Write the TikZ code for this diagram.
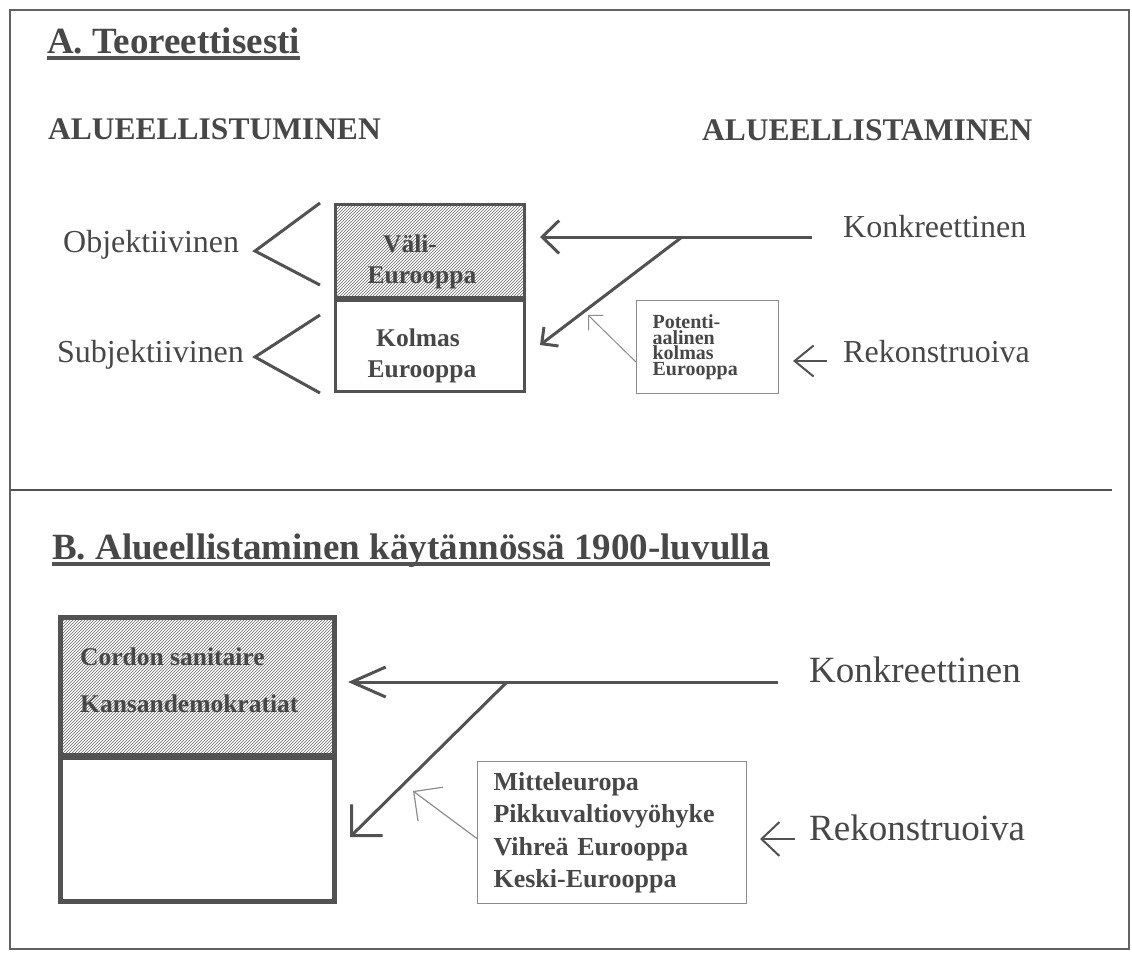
\documentclass[tikz,border=0pt]{standalone}
\usepackage{fontspec}
\setmainfont{Liberation Serif}
\usetikzlibrary{arrows.meta,patterns}
\definecolor{inchiostro}{gray}{0.28}
\definecolor{linea}{gray}{0.32}
\definecolor{sottile}{gray}{0.55}
\tikzset{
	titolo/.style={font=\fontsize{37}{44}\selectfont\bfseries, text=inchiostro, inner sep=0, anchor=base west},
	intestazione/.style={font=\fontsize{31.5}{38}\selectfont\bfseries, text=inchiostro, inner sep=0, anchor=base west},
	voce/.style={font=\fontsize{32}{38}\selectfont, text=inchiostro, inner sep=0, anchor=base west},
	testobox/.style={font=\fontsize{25.5}{31}\selectfont\bfseries, text=inchiostro, inner sep=0, anchor=base},
	riquadro/.style={draw=linea, line width=3, inner sep=0, anchor=north west},
	cornice/.style={draw=sottile, line width=1.2, inner ysep=0, anchor=north west, text=inchiostro, align=left},
	tratteggio/.style={pattern=north east lines, pattern color=black!60},
	freccia/.style={draw=linea, line width=3},
	frecciasottile/.style={draw=sottile, line width=1}
}
\begin{document}
\begin{tikzpicture}[x=1pt,y=-1pt]
		\useasboundingbox (0,0) rectangle (1132,954);
		% cornice esterna
		\draw[sottile!70!black, line width=1.8] (10,10) rectangle (1129,949);
		\draw[linea, line width=2.5] (10,490) -- (1112,490);
		% parte A
		\node[titolo] (titoloA) at (47,53) {A. Teoreettisesti};
		\draw[linea, line width=3.5] ([yshift=-5pt]titoloA.base west) -- ([yshift=-5pt]titoloA.base east);
		\node[intestazione] (alueellistuminen) at (48,139) {ALUEELLISTUMINEN};
		\node[intestazione] (alueellistaminen) at (702,140) {ALUEELLISTAMINEN};
		\node[voce] (objektiivinen) at (63,252) {Objektiivinen};
		\node[voce] (subjektiivinen) at (57,362) {Subjektiivinen};
		\node[voce] (konkreettinenA) at (843,237) {Konkreettinen};
		\node[voce] (rekonstruoivaA) at (843,362) {Rekonstruoiva};
		\draw[linea, line width=3] (320,203) -- (255,251) -- (320,285);
		\draw[linea, line width=3] (320,315) -- (255,357) -- (320,393);
		\node[riquadro, tratteggio, minimum width=189pt, minimum height=93pt] (vali) at (334,203) {};
		\node[riquadro, minimum width=189pt, minimum height=91pt] (kolmas) at (334,299) {};
		\node[testobox] (vali1) at (410,252) {Väli-};
		\node[testobox] (vali2) at (422,283) {Eurooppa};
		\node[testobox] (kolmas1) at (418,346) {Kolmas};
		\node[testobox] (kolmas2) at (422,377) {Eurooppa};
		\node[cornice, minimum width=142pt, minimum height=93pt, text width=110pt, inner xsep=16pt,
			font=\fontsize{20}{15.7}\selectfont\bfseries] (potenziale) at (636,300)
			{Potenti-\\aalinen\\kolmas\\Eurooppa};
		% frecce A
		\coordinate (kA) at (812,237);
		\coordinate (jA) at (682,237);
		\coordinate (puntaA1) at (540,237);
		\coordinate (puntaA2) at (540,345);
		\coordinate (puntaA3) at (588,315);
		\coordinate (codaA4) at (827,361);
		\coordinate (puntaA4) at (793,361);
		\draw[freccia, -{Straight Barb[length=17pt,width=33pt]}] (kA) -- (puntaA1);
		\draw[freccia, -{Straight Barb[length=12pt,width=24pt]}] (jA) -- (puntaA2);
		\draw[frecciasottile, -{Straight Barb[length=10.5pt,width=21pt]}] ([yshift=-15pt]potenziale.west) -- (puntaA3);
		\draw[freccia, line width=2, -{Straight Barb[length=19pt,width=31pt]}] (codaA4) -- (puntaA4);
		% parte B
		\node[titolo] (titoloB) at (52,559) {B. Alueellistaminen käytännössä 1900-luvulla};
		\draw[linea, line width=3.5] ([yshift=-5pt]titoloB.base west) -- ([yshift=-5pt]titoloB.base east);
		\node[riquadro, tratteggio, line width=5, minimum width=274pt, minimum height=138pt] (cordon) at (58,615) {};
		\node[riquadro, line width=5, minimum width=274pt, minimum height=144pt] (vuoto) at (58,755) {};
		\node[testobox, anchor=base west] (cordon1) at (80,665) {Cordon sanitaire};
		\node[testobox, anchor=base west] (cordon2) at (80,712) {Kansandemokratiat};
		\node[cornice, minimum width=269pt, minimum height=142pt, text width=237pt, inner xsep=16pt,
			font=\fontsize{26}{32.3}\selectfont\bfseries] (mittel) at (477,761)
			{Mitteleuropa\\Pikkuvaltiovyöhyke\\Vihreä Eurooppa\\Keski-Eurooppa};
		\node[voce, font=\fontsize{37}{44}\selectfont] (konkreettinenB) at (809,682) {Konkreettinen};
		\node[voce, font=\fontsize{37}{44}\selectfont] (rekonstruoivaB) at (809,840) {Rekonstruoiva};
		% frecce B
		\coordinate (kB) at (778,682);
		\coordinate (jB) at (507,682);
		\coordinate (puntaB1) at (348,682);
		\coordinate (puntaB2) at (350,837);
		\coordinate (puntaB3) at (413,791);
		\coordinate (codaB4) at (795,839);
		\coordinate (puntaB4) at (760,839);
		\draw[freccia, -{Straight Barb[length=34pt,width=30pt]}] (kB) -- (puntaB1);
		\draw[freccia, -{Straight Barb[length=22pt,width=44pt]}] (jB) -- (puntaB2);
		\draw[frecciasottile, line width=1.2, -{Straight Barb[length=21pt,width=42pt]}] ([yshift=-6pt]mittel.west) -- (puntaB3);
		\draw[freccia, line width=2, -{Straight Barb[length=18pt,width=34pt]}] (codaB4) -- (puntaB4);
	\end{tikzpicture}
\end{document}
